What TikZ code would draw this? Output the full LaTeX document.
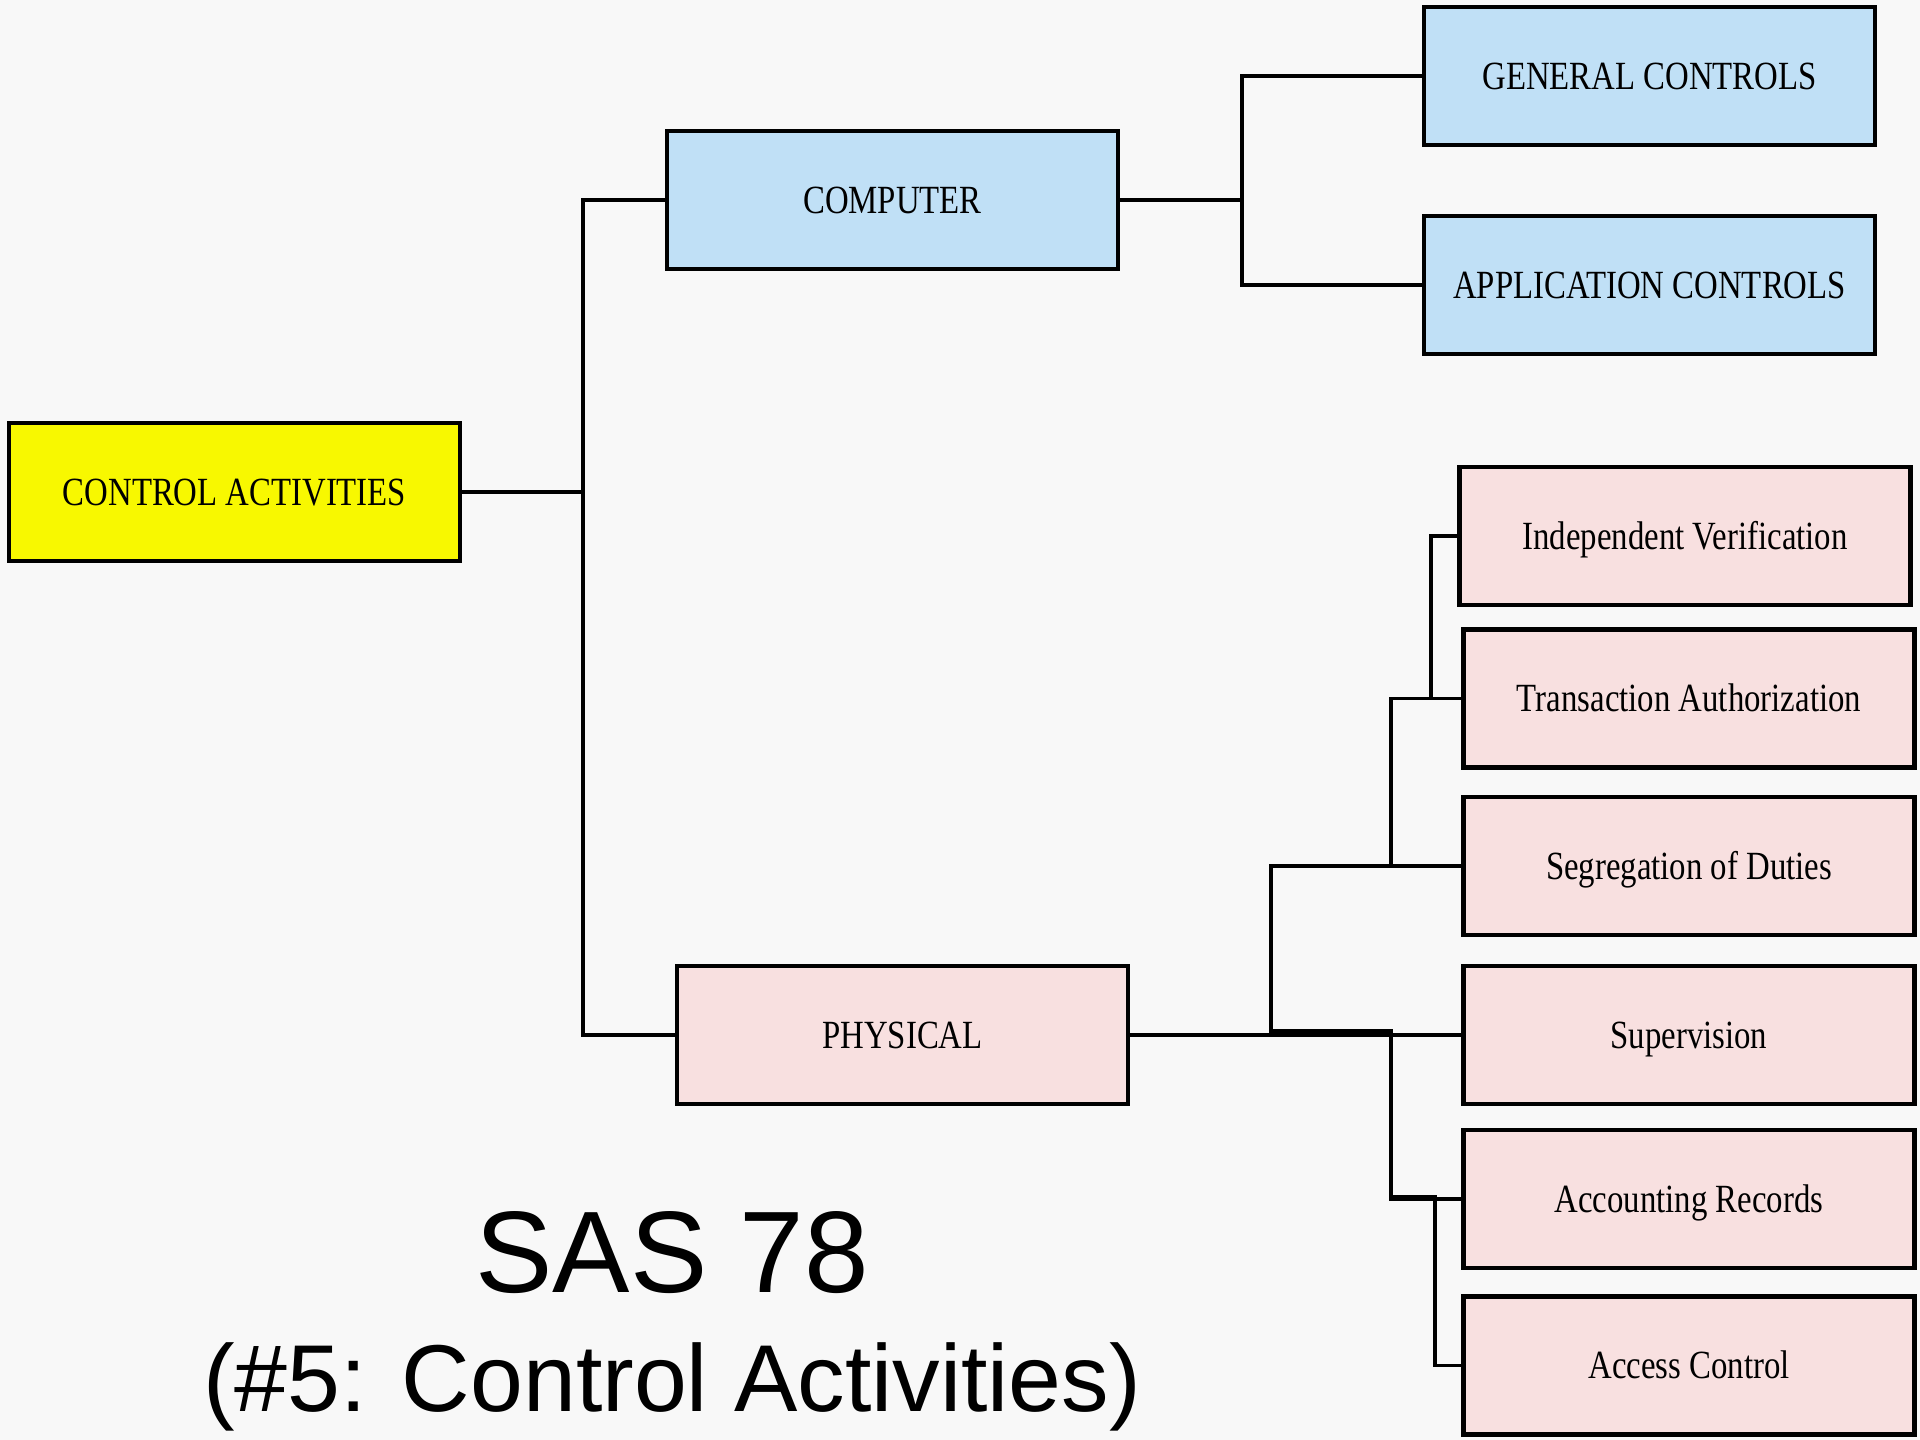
\documentclass[tikz,border=0pt]{standalone}
\usepackage{fontspec}
\setmainfont{Liberation Serif}
\newfontfamily\boxfont[FakeStretch=0.82]{Liberation Serif}
\newfontfamily\titlefont{Liberation Sans}
\definecolor{bgc}{HTML}{F8F8F8}
\definecolor{yel}{HTML}{F8F800}
\definecolor{blu}{HTML}{C0E0F6}
\definecolor{pnk}{HTML}{F8E0E0}
\begin{document}
\begin{tikzpicture}[x=1pt,y=-1pt,
  box/.style={draw=black, line width=4.5pt, minimum width=451pt, minimum height=138pt,
    inner sep=0pt, text height=30pt, text depth=3.5pt,
    font={\boxfont\fontsize{40pt}{44pt}\selectfont}},
  yb/.style={box, fill=yel},
  bb/.style={box, fill=blu},
  pb/.style={box, fill=pnk},
  link/.style={line width=3.5pt, line cap=rect}]
\fill[bgc] (0,0) rectangle (1920,1440);
\useasboundingbox (0,0) rectangle (1920,1440);

\node[yb] (ca) at (234.5,492) {CONTROL ACTIVITIES};
\node[bb] (comp) at (892.5,200) {COMPUTER};
\node[pb] (phys) at (902.5,1035) {PHYSICAL};
\node[bb] (gen) at (1649.5,76) {GENERAL CONTROLS};
\node[bb] (app) at (1649.5,285) {APPLICATION CONTROLS};
\node[pb] (iv) at (1685,536) {Independent Verification};
\node[pb] (ta) at (1689,698.5) {Transaction Authorization};
\node[pb] (sd) at (1689,866) {Segregation of Duties};
\node[pb] (sv) at (1689,1035) {Supervision};
\node[pb] (ar) at (1689,1199) {Accounting Records};
\node[pb] (ac) at (1689,1365.5) {Access Control};

\coordinate (j1) at (583,492);
\coordinate (j2) at (1242,200);
\coordinate (j3) at (1271,1035);
\coordinate (j4) at (1391,866);
\coordinate (j5) at (1431,698.5);
\coordinate (j6a) at (1271,1031);
\coordinate (j6) at (1391,1031);
\coordinate (j7a) at (1391,1197);
\coordinate (j7) at (1435,1197);

\draw[link] (ca.east) -- (j1);
\draw[link] (comp.west) -| (j1) |- (phys.west);
\draw[link] (comp.east) -- (j2);
\draw[link] (gen.west) -| (j2) |- (app.west);
\draw[link] (phys.east) -- (sv.west);
\draw[link] (j3) |- (sd.west);
\draw[link] (j4) |- (ta.west);
\draw[link] (j5) |- (iv.west);
\draw[link] (j6a) -- (j6) |- (ar.west);
\draw[link] (j7a) -- (j7) |- (ac.west);

\node[font={\titlefont\fontsize{116pt}{120pt}\selectfont}, anchor=base, inner sep=0pt] (t1) at (672,1292) {SAS 78};
\node[font={\titlefont\fontsize{95pt}{100pt}\selectfont}, anchor=base, inner sep=0pt] (t2) at (672,1411) {(\#5: Control Activities)};
\end{tikzpicture}
\end{document}
